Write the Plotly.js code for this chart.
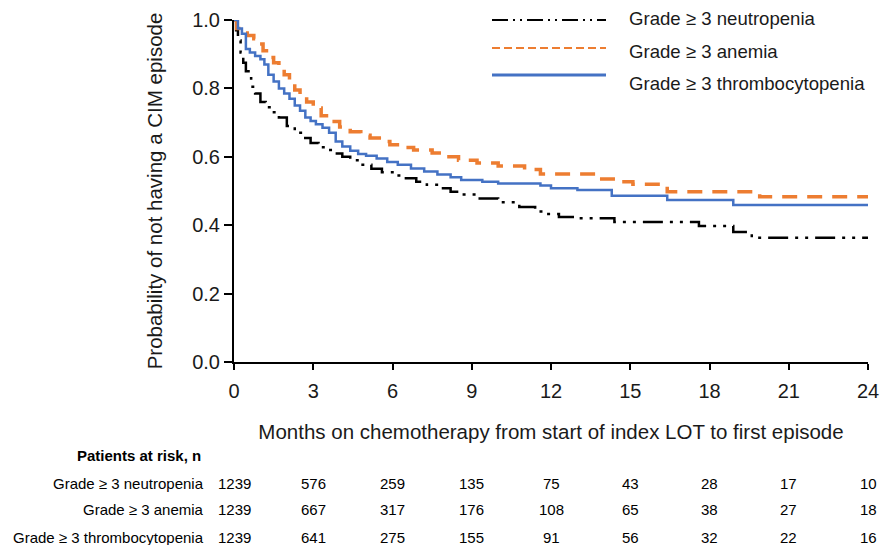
<!DOCTYPE html>
<html>
<head>
<meta charset="utf-8">
<script src="https://cdn.plot.ly/plotly-3.0.1.min.js"></script>
<style>
  html, body { margin: 0; padding: 0; background: #fff; }
  #chart { width: 882px; height: 545px; }
</style>
</head>
<body>
<div id="chart"></div>
<script>
// ---------- data ----------
const seriesNames = ["Grade ≥ 3 neutropenia", "Grade ≥ 3 anemia", "Grade ≥ 3 thrombocytopenia"];

const neutTime = [0, 0.08, 0.15, 0.25, 0.35, 0.45, 0.55, 0.65, 0.8, 1.0, 1.2, 1.45, 1.7, 2.0, 2.3, 2.6, 2.9, 3.2, 3.5, 3.8, 4.1, 4.4, 4.8, 5.2, 5.6, 6.0, 6.4, 6.9, 7.3, 7.8, 8.2, 8.6, 9.2, 10.0, 10.8, 11.4, 11.8, 12.3, 13.0, 14.4, 17.6, 18.9, 19.6, 24];
const neutSurv = [1.0, 0.97, 0.94, 0.905, 0.875, 0.85, 0.83, 0.805, 0.785, 0.76, 0.745, 0.73, 0.715, 0.69, 0.67, 0.655, 0.64, 0.628, 0.62, 0.61, 0.6, 0.59, 0.577, 0.565, 0.555, 0.545, 0.537, 0.527, 0.518, 0.508, 0.498, 0.49, 0.478, 0.467, 0.453, 0.44, 0.433, 0.424, 0.42, 0.409, 0.398, 0.38, 0.363, 0.363];

const anemTime = [0, 0.1, 0.25, 0.5, 0.75, 0.95, 1.1, 1.3, 1.5, 1.7, 1.9, 2.1, 2.3, 2.5, 2.75, 3.0, 3.3, 3.6, 4.0, 4.4, 4.8, 5.15, 5.5, 5.9, 6.3, 6.8, 7.5, 8.0, 8.5, 9.2, 10.0, 11.0, 11.6, 13.7, 14.5, 15.1, 16.4, 19.9, 24];
const anemSurv = [1.0, 0.975, 0.962, 0.955, 0.945, 0.93, 0.91, 0.89, 0.875, 0.86, 0.84, 0.818, 0.795, 0.778, 0.76, 0.743, 0.72, 0.703, 0.687, 0.673, 0.663, 0.655, 0.645, 0.635, 0.627, 0.62, 0.611, 0.6, 0.59, 0.582, 0.573, 0.563, 0.55, 0.535, 0.527, 0.52, 0.498, 0.483, 0.483];

const thrmTime = [0, 0.15, 0.3, 0.45, 0.6, 0.8, 1.0, 1.15, 1.3, 1.5, 1.7, 1.9, 2.1, 2.3, 2.5, 2.7, 2.9, 3.1, 3.35, 3.6, 3.85, 4.1, 4.4, 4.7, 5.0, 5.4, 5.8, 6.2, 6.7, 7.2, 7.7, 8.2, 8.6, 9.4, 10.0, 11.6, 12.0, 13.0, 14.3, 16.4, 18.9, 24];
const thrmSurv = [1.0, 0.975, 0.96, 0.915, 0.905, 0.895, 0.885, 0.87, 0.84, 0.82, 0.8, 0.785, 0.77, 0.75, 0.735, 0.715, 0.705, 0.695, 0.685, 0.67, 0.645, 0.63, 0.618, 0.608, 0.603, 0.595, 0.585, 0.577, 0.566, 0.557, 0.548, 0.54, 0.532, 0.527, 0.522, 0.516, 0.508, 0.503, 0.486, 0.474, 0.459, 0.459];

const xTicks = [0, 3, 6, 9, 12, 15, 18, 21, 24];
const yTicks = [0, 0.2, 0.4, 0.6, 0.8, 1.0];
const riskHeader = "Patients at risk, n";
const riskNeut = [1239, 576, 259, 135, 75, 43, 28, 17, 10];
const riskAnem = [1239, 667, 317, 176, 108, 65, 38, 27, 18];
const riskThrm = [1239, 641, 275, 155, 91, 56, 32, 22, 16];

// ---------- styles ----------
const FONT = "Liberation Sans, Arial, Helvetica, sans-serif";
const colors = ["#000000", "#ED7D31", "#4472C4"];
const plotDash = ["20px,7px,3px,7px,3px,7px", "15px,10px", "solid"];
const legendDash = ["16px,5px,2px,5px,2px,5px", "8px,4px", "solid"];
const widths = [2.5, 3.5, 2.5];

const times = [neutTime, anemTime, thrmTime];
const survs = [neutSurv, anemSurv, thrmSurv];

const traces = seriesNames.map((nm, i) => ({
  x: times[i], y: survs[i], name: nm, type: "scatter", mode: "lines",
  line: {shape: "hv", color: colors[i], width: widths[i], dash: plotDash[i]},
  showlegend: false, hoverinfo: "skip"
}));

const L = 234, T = 20, W = 634, H = 342;
const px2paperX = px => (px - L) / W;
const py2paperY = py => (T + H - py) / H;

const annotations = [];
const shapes = [];

// legend (manual)
const legLineY = [20, 48, 75];
const legTextY = [18, 51, 83];
seriesNames.forEach((nm, i) => {
  shapes.push({type: "line", xref: "paper", yref: "paper",
    x0: px2paperX(492), x1: px2paperX(606), y0: py2paperY(legLineY[i]), y1: py2paperY(legLineY[i]),
    line: {color: colors[i], width: i === 2 ? 3 : 2, dash: legendDash[i]}});
  annotations.push({xref: "paper", yref: "paper", x: px2paperX(627), y: py2paperY(legTextY[i]),
    xanchor: "left", yanchor: "middle", showarrow: false, text: nm,
    font: {family: FONT, size: 18.6, color: "#1a1a1a"}});
});

// risk table
annotations.push({xref: "paper", yref: "paper", x: px2paperX(75), y: py2paperY(455),
  xanchor: "left", yanchor: "middle", showarrow: false, text: "<b>" + riskHeader + "</b>",
  font: {family: FONT, size: 15, color: "#000"}});
const riskRows = [riskNeut, riskAnem, riskThrm];
const rowY = [483, 510, 537];
riskRows.forEach((row, r) => {
  annotations.push({xref: "paper", yref: "paper", x: px2paperX(206), y: py2paperY(rowY[r]),
    xanchor: "right", yanchor: "middle", showarrow: false, text: seriesNames[r],
    font: {family: FONT, size: 15, color: "#000"}});
  row.forEach((v, k) => {
    annotations.push({xref: "x", yref: "paper", x: xTicks[k], y: py2paperY(rowY[r]),
      xanchor: "center", yanchor: "middle", showarrow: false, text: String(v),
      font: {family: FONT, size: 15, color: "#000"}});
  });
});

const layout = {
  width: 882, height: 545,
  margin: {l: L, r: 882 - L - W, t: T, b: 545 - T - H, pad: 0},
  paper_bgcolor: "#fff", plot_bgcolor: "#fff",
  showlegend: false,
  font: {family: FONT, color: "#1a1a1a"},
  xaxis: {
    range: [0, 24], tickvals: xTicks, ticktext: xTicks.map(String),
    showgrid: false, zeroline: false, showline: true, linecolor: "#000", linewidth: 2,
    ticks: "outside", ticklen: 6, tickwidth: 2, tickcolor: "#000", ticklabelstandoff: 4,
    tickfont: {family: FONT, size: 20, color: "#1a1a1a"},
    title: {text: "Months on chemotherapy from start of index LOT to first episode",
      font: {family: FONT, size: 20.5, color: "#1a1a1a"}, standoff: 24}
  },
  yaxis: {
    range: [0, 1.0], tickvals: yTicks, ticktext: yTicks.map(v => v.toFixed(1)),
    showgrid: false, zeroline: false, showline: true, linecolor: "#000", linewidth: 2,
    ticks: "outside", ticklen: 8, tickwidth: 2, tickcolor: "#000",
    tickfont: {family: FONT, size: 20, color: "#1a1a1a"},
    title: {text: "Probability of not having a CIM episode",
      font: {family: FONT, size: 20.5, color: "#1a1a1a"}, standoff: 24}
  },
  annotations: annotations,
  shapes: shapes
};

Plotly.newPlot("chart", traces, layout, {displayModeBar: false, staticPlot: true});
</script>
</body>
</html>
